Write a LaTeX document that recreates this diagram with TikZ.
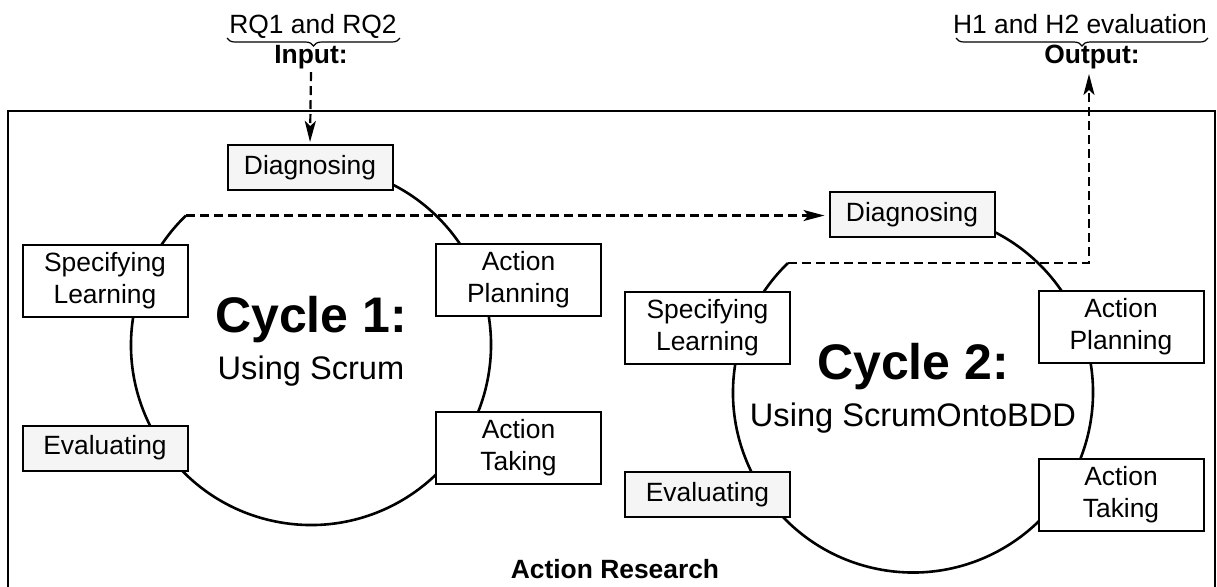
\documentclass[tikz,border=0pt]{standalone}
\usepackage{fontspec}
\setmainfont{Liberation Sans}
\usetikzlibrary{arrows.meta,decorations.pathreplacing,calc}
\definecolor{boxgray}{HTML}{F5F5F5}
\begin{document}
\begin{tikzpicture}[x=0.5pt,y=0.5pt,
  stage/.style={draw=black, line width=1pt, fill=white, inner sep=0pt, align=center,
    minimum width=82.5pt, font=\fontsize{13.2}{16}\selectfont},
  greystage/.style={stage, fill=boxgray},
  onerow/.style={minimum height=22.5pt},
  tworow/.style={minimum height=36pt},
  cyclering/.style={line width=1.3pt},
  flowline/.style={line width=1.1pt, dash pattern=on 4.5pt off 2.5pt,
    -{Stealth[length=10.5pt,width=5.5pt,inset=2.5pt]}},
  plain/.style={font=\fontsize{13.2}{16}\selectfont, inner sep=0pt, anchor=base},
  plainbold/.style={plain, font=\fontsize{13.2}{16}\selectfont\bfseries},
  bigtitle/.style={font=\fontsize{25}{30}\selectfont\bfseries, inner sep=0pt, anchor=base},
  subtitle/.style={font=\fontsize{16.3}{20}\selectfont, inner sep=0pt, anchor=base},
  curly/.style={line width=0.6pt, decorate, decoration={brace, mirror, amplitude=4pt}}
]
\useasboundingbox (0,0) rectangle (1217,-586);
\clip (0,0) rectangle (1217,-586);

% outer frame
\draw[line width=1.1pt] (8,-111) rectangle (1215,-620);
\node[plainbold] (frametitle) at (615,-578) {Action Research};

% input and output labels
\node[plain] (rq) at (313,-33) {RQ1 and RQ2};
\draw[curly] (227,-38) -- (400,-38);
\node[plainbold] (inlbl) at (311,-63) {Input:};
\coordinate (instart) at (311,-72);

\node[plain] (hy) at (1080,-33) {H1 and H2 evaluation};
\draw[curly] (956,-38) -- (1208,-38);
\node[plainbold] (outlbl) at (1092,-63) {Output:};
\coordinate (outtip) at (1089,-74);

% cycle 1
\coordinate (c1) at (311,-345);
\draw[cyclering] ($(c1)+(80:90pt)$) arc[start angle=80, end angle=-226, radius=90pt];
\coordinate (c1end) at ($(c1)+(134:90pt)$);
\node[greystage, onerow] (d1) at (310,-167.5) {Diagnosing};
\node[stage, tworow] (sl1) at (105,-280.5) {Specifying\\Learning};
\node[greystage, onerow] (ev1) at (105,-448) {Evaluating};
\node[stage, tworow] (ap1) at (518.5,-280) {Action\\Planning};
\node[stage, tworow] (at1) at (518.5,-447.5) {Action\\Taking};
\node[bigtitle] (t1) at (311,-332) {Cycle 1:};
\node[subtitle] (s1) at (311,-379) {Using Scrum};

% cycle 2
\coordinate (c2) at (913,-392.5);
\draw[cyclering] ($(c2)+(80:90pt)$) arc[start angle=80, end angle=-226, radius=90pt];
\coordinate (c2end) at ($(c2)+(134:90pt)$);
\node[greystage, onerow] (d2) at (912,-214.5) {Diagnosing};
\node[stage, tworow] (sl2) at (707.5,-327.5) {Specifying\\Learning};
\node[greystage, onerow] (ev2) at (707.5,-494.5) {Evaluating};
\node[stage, tworow] (ap2) at (1121,-327) {Action\\Planning};
\node[stage, tworow] (at2) at (1121,-494.5) {Action\\Taking};
\node[bigtitle] (t2) at (913,-379.5) {Cycle 2:};
\node[subtitle] (s2) at (913,-426.5) {Using ScrumOntoBDD};

% connectors
\draw[flowline, shorten >=1pt] (instart) -- (d1.north);
\draw[flowline, shorten >=2pt] (c1end) -- (c1end -| d2.west);
\draw[flowline] (c2end) -- (c2end -| outtip) -- (outtip);
\end{tikzpicture}
\end{document}
